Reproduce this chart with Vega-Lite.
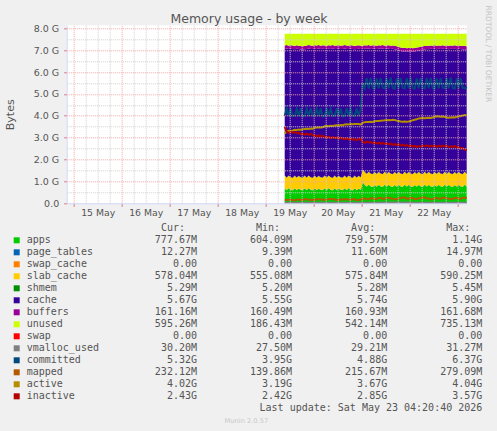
{
  "$schema": "https://vega.github.io/schema/vega-lite/v6.json",
  "autosize": {"type": "none"},
  "width": 400,
  "height": 178,
  "padding": {"left": 66.7, "top": 25.3, "right": 30.3, "bottom": 227.7},
  "background": "#F0F0F0",
  "config": {"view": {"fill": "#FFFFFF", "stroke": null}, "font": "DejaVu Sans"},
  "title": {"text": "Memory usage - by week", "anchor": "middle", "frame": "group", "font": "DejaVu Sans", "fontSize": 12.5, "fontWeight": "normal", "color": "#555555", "dx": -17.7, "offset": -26, "baseline": "middle"},
  "datasets": {
    "ord": [
      {"series": "apps", "ord": 1}, {"series": "page_tables", "ord": 2}, {"series": "swap_cache", "ord": 3},
      {"series": "slab_cache", "ord": 4}, {"series": "shmem", "ord": 5}, {"series": "cache", "ord": 6},
      {"series": "buffers", "ord": 7}, {"series": "unused", "ord": 8}, {"series": "swap", "ord": 9}
    ],
    "stats": [
      {"series": "apps", "cur": "777.67M", "min": "604.09M", "avg": "759.57M", "max": "1.14G"},
      {"series": "page_tables", "cur": "12.27M", "min": "9.39M", "avg": "11.60M", "max": "14.97M"},
      {"series": "swap_cache", "cur": "0.00\u00a0", "min": "0.00\u00a0", "avg": "0.00\u00a0", "max": "0.00\u00a0"},
      {"series": "slab_cache", "cur": "578.04M", "min": "555.08M", "avg": "575.84M", "max": "590.25M"},
      {"series": "shmem", "cur": "5.29M", "min": "5.20M", "avg": "5.28M", "max": "5.45M"},
      {"series": "cache", "cur": "5.67G", "min": "5.55G", "avg": "5.74G", "max": "5.90G"},
      {"series": "buffers", "cur": "161.16M", "min": "160.49M", "avg": "160.93M", "max": "161.68M"},
      {"series": "unused", "cur": "595.26M", "min": "186.43M", "avg": "542.14M", "max": "735.13M"},
      {"series": "swap", "cur": "0.00\u00a0", "min": "0.00\u00a0", "avg": "0.00\u00a0", "max": "0.00\u00a0"},
      {"series": "vmalloc_used", "cur": "30.20M", "min": "27.50M", "avg": "29.21M", "max": "31.27M"},
      {"series": "committed", "cur": "5.32G", "min": "3.95G", "avg": "4.88G", "max": "6.37G"},
      {"series": "mapped", "cur": "232.12M", "min": "139.86M", "avg": "215.67M", "max": "279.09M"},
      {"series": "active", "cur": "4.02G", "min": "3.19G", "avg": "3.67G", "max": "4.04G"},
      {"series": "inactive", "cur": "2.43G", "min": "2.42G", "avg": "2.85G", "max": "3.57G"}
    ],
    "hdr": [
      {"series": "_hdr", "col": "cur", "txt": "Cur:"},
      {"series": "_hdr", "col": "min", "txt": "Min:"},
      {"series": "_hdr", "col": "avg", "txt": "Avg:"},
      {"series": "_hdr", "col": "max", "txt": "Max:"}
    ],
    "upd": [
      {"series": "_upd", "col": "max", "txt": "Last update: Sat May 23 04:20:40 2026"}
    ],
    "ts": [
      {"t":"2026-05-19T09:30","apps":0.68,"page_tables":0.011,"slab_cache":0.57,"shmem":0.005,"cache":5.793,"buffers":0.157,"unused":0.533,"vmalloc_used":0.028,"committed":3.99,"mapped":0.15,"active":3.19,"inactive":3.5},
      {"t":"2026-05-19T10:30","apps":0.60,"page_tables":0.011,"slab_cache":0.56,"shmem":0.005,"cache":5.903,"buffers":0.157,"unused":0.513,"vmalloc_used":0.028,"committed":4.33,"mapped":0.15,"active":3.30,"inactive":3.28},
      {"t":"2026-05-19T11:30","apps":0.69,"page_tables":0.011,"slab_cache":0.57,"shmem":0.005,"cache":5.773,"buffers":0.157,"unused":0.543,"vmalloc_used":0.029,"committed":3.98,"mapped":0.16,"active":3.32,"inactive":3.22},
      {"t":"2026-05-19T12:30","apps":0.61,"page_tables":0.011,"slab_cache":0.56,"shmem":0.005,"cache":5.883,"buffers":0.157,"unused":0.523,"vmalloc_used":0.029,"committed":4.34,"mapped":0.16,"active":3.31,"inactive":3.27},
      {"t":"2026-05-19T13:30","apps":0.59,"page_tables":0.011,"slab_cache":0.56,"shmem":0.005,"cache":5.893,"buffers":0.157,"unused":0.533,"vmalloc_used":0.029,"committed":3.99,"mapped":0.14,"active":3.33,"inactive":3.23},
      {"t":"2026-05-19T14:30","apps":0.68,"page_tables":0.011,"slab_cache":0.57,"shmem":0.005,"cache":5.773,"buffers":0.157,"unused":0.553,"vmalloc_used":0.029,"committed":4.00,"mapped":0.14,"active":3.36,"inactive":3.26},
      {"t":"2026-05-19T15:30","apps":0.60,"page_tables":0.011,"slab_cache":0.56,"shmem":0.005,"cache":5.893,"buffers":0.157,"unused":0.523,"vmalloc_used":0.029,"committed":4.32,"mapped":0.17,"active":3.35,"inactive":3.21},
      {"t":"2026-05-19T16:30","apps":0.67,"page_tables":0.011,"slab_cache":0.57,"shmem":0.005,"cache":5.793,"buffers":0.157,"unused":0.543,"vmalloc_used":0.029,"committed":3.98,"mapped":0.17,"active":3.37,"inactive":3.24},
      {"t":"2026-05-19T17:30","apps":0.61,"page_tables":0.011,"slab_cache":0.56,"shmem":0.005,"cache":5.843,"buffers":0.157,"unused":0.563,"vmalloc_used":0.029,"committed":4.35,"mapped":0.15,"active":3.36,"inactive":3.15},
      {"t":"2026-05-19T18:30","apps":0.60,"page_tables":0.011,"slab_cache":0.56,"shmem":0.005,"cache":5.843,"buffers":0.157,"unused":0.573,"vmalloc_used":0.029,"committed":3.97,"mapped":0.15,"active":3.38,"inactive":3.19},
      {"t":"2026-05-19T19:30","apps":0.68,"page_tables":0.011,"slab_cache":0.57,"shmem":0.005,"cache":5.773,"buffers":0.157,"unused":0.553,"vmalloc_used":0.029,"committed":3.99,"mapped":0.18,"active":3.40,"inactive":3.14},
      {"t":"2026-05-19T20:30","apps":0.60,"page_tables":0.011,"slab_cache":0.56,"shmem":0.005,"cache":5.883,"buffers":0.157,"unused":0.533,"vmalloc_used":0.029,"committed":4.33,"mapped":0.18,"active":3.41,"inactive":3.18},
      {"t":"2026-05-19T21:30","apps":0.69,"page_tables":0.011,"slab_cache":0.57,"shmem":0.005,"cache":5.803,"buffers":0.157,"unused":0.513,"vmalloc_used":0.029,"committed":3.98,"mapped":0.16,"active":3.40,"inactive":3.13},
      {"t":"2026-05-19T22:30","apps":0.61,"page_tables":0.011,"slab_cache":0.56,"shmem":0.005,"cache":5.873,"buffers":0.157,"unused":0.533,"vmalloc_used":0.029,"committed":4.34,"mapped":0.16,"active":3.42,"inactive":3.17},
      {"t":"2026-05-19T23:30","apps":0.59,"page_tables":0.011,"slab_cache":0.56,"shmem":0.005,"cache":5.883,"buffers":0.157,"unused":0.543,"vmalloc_used":0.029,"committed":3.99,"mapped":0.15,"active":3.41,"inactive":3.12},
      {"t":"2026-05-20T00:30","apps":0.68,"page_tables":0.011,"slab_cache":0.57,"shmem":0.005,"cache":5.803,"buffers":0.157,"unused":0.523,"vmalloc_used":0.029,"committed":4.00,"mapped":0.15,"active":3.45,"inactive":3.10},
      {"t":"2026-05-20T01:30","apps":0.60,"page_tables":0.011,"slab_cache":0.56,"shmem":0.005,"cache":5.883,"buffers":0.157,"unused":0.533,"vmalloc_used":0.029,"committed":4.33,"mapped":0.19,"active":3.46,"inactive":3.06},
      {"t":"2026-05-20T02:30","apps":0.67,"page_tables":0.011,"slab_cache":0.57,"shmem":0.005,"cache":5.823,"buffers":0.157,"unused":0.513,"vmalloc_used":0.029,"committed":3.98,"mapped":0.19,"active":3.47,"inactive":3.10},
      {"t":"2026-05-20T03:30","apps":0.61,"page_tables":0.011,"slab_cache":0.56,"shmem":0.005,"cache":5.863,"buffers":0.157,"unused":0.543,"vmalloc_used":0.029,"committed":4.35,"mapped":0.17,"active":3.46,"inactive":3.05},
      {"t":"2026-05-20T04:30","apps":0.60,"page_tables":0.011,"slab_cache":0.56,"shmem":0.005,"cache":5.893,"buffers":0.157,"unused":0.523,"vmalloc_used":0.029,"committed":3.97,"mapped":0.17,"active":3.48,"inactive":3.09},
      {"t":"2026-05-20T05:30","apps":0.68,"page_tables":0.011,"slab_cache":0.57,"shmem":0.005,"cache":5.793,"buffers":0.157,"unused":0.533,"vmalloc_used":0.029,"committed":3.99,"mapped":0.16,"active":3.52,"inactive":3.04},
      {"t":"2026-05-20T06:30","apps":0.60,"page_tables":0.011,"slab_cache":0.56,"shmem":0.005,"cache":5.873,"buffers":0.157,"unused":0.543,"vmalloc_used":0.030,"committed":4.34,"mapped":0.16,"active":3.53,"inactive":3.00},
      {"t":"2026-05-20T07:30","apps":0.69,"page_tables":0.011,"slab_cache":0.57,"shmem":0.005,"cache":5.793,"buffers":0.157,"unused":0.523,"vmalloc_used":0.030,"committed":3.98,"mapped":0.20,"active":3.52,"inactive":3.04},
      {"t":"2026-05-20T08:30","apps":0.61,"page_tables":0.011,"slab_cache":0.56,"shmem":0.005,"cache":5.873,"buffers":0.157,"unused":0.533,"vmalloc_used":0.030,"committed":4.33,"mapped":0.20,"active":3.54,"inactive":2.99},
      {"t":"2026-05-20T09:30","apps":0.59,"page_tables":0.011,"slab_cache":0.56,"shmem":0.005,"cache":5.913,"buffers":0.157,"unused":0.513,"vmalloc_used":0.030,"committed":3.99,"mapped":0.18,"active":3.53,"inactive":3.03},
      {"t":"2026-05-20T10:30","apps":0.68,"page_tables":0.011,"slab_cache":0.57,"shmem":0.005,"cache":5.783,"buffers":0.157,"unused":0.543,"vmalloc_used":0.030,"committed":4.00,"mapped":0.18,"active":3.56,"inactive":2.98},
      {"t":"2026-05-20T11:30","apps":0.60,"page_tables":0.011,"slab_cache":0.56,"shmem":0.005,"cache":5.883,"buffers":0.157,"unused":0.533,"vmalloc_used":0.030,"committed":4.35,"mapped":0.15,"active":3.57,"inactive":3.01},
      {"t":"2026-05-20T12:30","apps":0.67,"page_tables":0.011,"slab_cache":0.57,"shmem":0.005,"cache":5.813,"buffers":0.157,"unused":0.523,"vmalloc_used":0.030,"committed":3.98,"mapped":0.15,"active":3.56,"inactive":2.96},
      {"t":"2026-05-20T13:30","apps":0.61,"page_tables":0.011,"slab_cache":0.56,"shmem":0.005,"cache":5.863,"buffers":0.157,"unused":0.543,"vmalloc_used":0.030,"committed":4.33,"mapped":0.17,"active":3.58,"inactive":3.00},
      {"t":"2026-05-20T14:30","apps":0.60,"page_tables":0.011,"slab_cache":0.56,"shmem":0.005,"cache":5.883,"buffers":0.157,"unused":0.533,"vmalloc_used":0.030,"committed":3.97,"mapped":0.17,"active":3.57,"inactive":2.95},
      {"t":"2026-05-20T15:30","apps":0.68,"page_tables":0.011,"slab_cache":0.57,"shmem":0.005,"cache":5.813,"buffers":0.157,"unused":0.513,"vmalloc_used":0.030,"committed":3.99,"mapped":0.19,"active":3.60,"inactive":2.94},
      {"t":"2026-05-20T16:30","apps":0.60,"page_tables":0.011,"slab_cache":0.56,"shmem":0.005,"cache":5.883,"buffers":0.157,"unused":0.533,"vmalloc_used":0.030,"committed":4.34,"mapped":0.19,"active":3.61,"inactive":2.97},
      {"t":"2026-05-20T17:30","apps":0.69,"page_tables":0.011,"slab_cache":0.57,"shmem":0.005,"cache":5.773,"buffers":0.157,"unused":0.543,"vmalloc_used":0.030,"committed":3.98,"mapped":0.16,"active":3.60,"inactive":2.92},
      {"t":"2026-05-20T18:30","apps":0.61,"page_tables":0.011,"slab_cache":0.56,"shmem":0.005,"cache":5.883,"buffers":0.157,"unused":0.523,"vmalloc_used":0.030,"committed":4.33,"mapped":0.16,"active":3.62,"inactive":2.95},
      {"t":"2026-05-20T19:30","apps":0.59,"page_tables":0.011,"slab_cache":0.56,"shmem":0.005,"cache":5.893,"buffers":0.157,"unused":0.533,"vmalloc_used":0.030,"committed":3.99,"mapped":0.18,"active":3.61,"inactive":2.91},
      {"t":"2026-05-20T20:30","apps":0.68,"page_tables":0.011,"slab_cache":0.57,"shmem":0.005,"cache":5.773,"buffers":0.157,"unused":0.553,"vmalloc_used":0.030,"committed":4.00,"mapped":0.18,"active":3.62,"inactive":2.93},
      {"t":"2026-05-20T21:30","apps":0.60,"page_tables":0.011,"slab_cache":0.56,"shmem":0.005,"cache":5.883,"buffers":0.157,"unused":0.533,"vmalloc_used":0.030,"committed":4.35,"mapped":0.15,"active":3.63,"inactive":2.89},
      {"t":"2026-05-20T22:30","apps":0.67,"page_tables":0.011,"slab_cache":0.57,"shmem":0.005,"cache":5.813,"buffers":0.157,"unused":0.523,"vmalloc_used":0.030,"committed":3.98,"mapped":0.15,"active":3.62,"inactive":2.93},
      {"t":"2026-05-20T23:30","apps":0.61,"page_tables":0.011,"slab_cache":0.56,"shmem":0.005,"cache":5.863,"buffers":0.157,"unused":0.543,"vmalloc_used":0.030,"committed":4.33,"mapped":0.17,"active":3.60,"inactive":2.95},
      {"t":"2026-05-21T00:30","apps":0.95,"page_tables":0.012,"slab_cache":0.575,"shmem":0.005,"cache":5.508,"buffers":0.157,"unused":0.543,"vmalloc_used":0.030,"committed":5.50,"mapped":0.22,"active":3.68,"inactive":2.80},
      {"t":"2026-05-21T01:30","apps":0.84,"page_tables":0.012,"slab_cache":0.58,"shmem":0.005,"cache":5.633,"buffers":0.157,"unused":0.523,"vmalloc_used":0.030,"committed":5.26,"mapped":0.22,"active":3.71,"inactive":2.76},
      {"t":"2026-05-21T02:30","apps":0.76,"page_tables":0.012,"slab_cache":0.57,"shmem":0.005,"cache":5.713,"buffers":0.157,"unused":0.533,"vmalloc_used":0.030,"committed":5.72,"mapped":0.19,"active":3.72,"inactive":2.82},
      {"t":"2026-05-21T03:30","apps":0.85,"page_tables":0.012,"slab_cache":0.58,"shmem":0.005,"cache":5.633,"buffers":0.157,"unused":0.513,"vmalloc_used":0.030,"committed":5.25,"mapped":0.19,"active":3.72,"inactive":2.78},
      {"t":"2026-05-21T04:30","apps":0.77,"page_tables":0.012,"slab_cache":0.57,"shmem":0.005,"cache":5.693,"buffers":0.157,"unused":0.543,"vmalloc_used":0.030,"committed":5.74,"mapped":0.23,"active":3.73,"inactive":2.80},
      {"t":"2026-05-21T05:30","apps":0.75,"page_tables":0.012,"slab_cache":0.57,"shmem":0.005,"cache":5.733,"buffers":0.157,"unused":0.523,"vmalloc_used":0.030,"committed":5.27,"mapped":0.23,"active":3.72,"inactive":2.75},
      {"t":"2026-05-21T06:30","apps":0.83,"page_tables":0.012,"slab_cache":0.58,"shmem":0.005,"cache":5.633,"buffers":0.157,"unused":0.533,"vmalloc_used":0.030,"committed":5.24,"mapped":0.20,"active":3.75,"inactive":2.79},
      {"t":"2026-05-21T07:30","apps":0.76,"page_tables":0.012,"slab_cache":0.57,"shmem":0.005,"cache":5.703,"buffers":0.157,"unused":0.543,"vmalloc_used":0.030,"committed":5.71,"mapped":0.20,"active":3.76,"inactive":2.74},
      {"t":"2026-05-21T08:30","apps":0.84,"page_tables":0.012,"slab_cache":0.58,"shmem":0.005,"cache":5.633,"buffers":0.157,"unused":0.523,"vmalloc_used":0.030,"committed":5.26,"mapped":0.24,"active":3.76,"inactive":2.77},
      {"t":"2026-05-21T09:30","apps":0.77,"page_tables":0.012,"slab_cache":0.57,"shmem":0.005,"cache":5.703,"buffers":0.157,"unused":0.533,"vmalloc_used":0.031,"committed":5.73,"mapped":0.24,"active":3.77,"inactive":2.72},
      {"t":"2026-05-21T10:30","apps":0.75,"page_tables":0.012,"slab_cache":0.57,"shmem":0.005,"cache":5.743,"buffers":0.157,"unused":0.513,"vmalloc_used":0.031,"committed":5.28,"mapped":0.21,"active":3.78,"inactive":2.76},
      {"t":"2026-05-21T11:30","apps":0.85,"page_tables":0.012,"slab_cache":0.58,"shmem":0.005,"cache":5.603,"buffers":0.157,"unused":0.543,"vmalloc_used":0.031,"committed":5.25,"mapped":0.21,"active":3.80,"inactive":2.71},
      {"t":"2026-05-21T12:30","apps":0.76,"page_tables":0.012,"slab_cache":0.57,"shmem":0.005,"cache":5.713,"buffers":0.157,"unused":0.533,"vmalloc_used":0.031,"committed":5.72,"mapped":0.25,"active":3.80,"inactive":2.74},
      {"t":"2026-05-21T13:30","apps":0.84,"page_tables":0.012,"slab_cache":0.58,"shmem":0.005,"cache":5.633,"buffers":0.157,"unused":0.523,"vmalloc_used":0.031,"committed":5.26,"mapped":0.25,"active":3.81,"inactive":2.70},
      {"t":"2026-05-21T14:30","apps":0.77,"page_tables":0.012,"slab_cache":0.57,"shmem":0.005,"cache":5.693,"buffers":0.157,"unused":0.543,"vmalloc_used":0.031,"committed":5.75,"mapped":0.22,"active":3.80,"inactive":2.73},
      {"t":"2026-05-21T15:30","apps":0.75,"page_tables":0.012,"slab_cache":0.57,"shmem":0.005,"cache":5.723,"buffers":0.157,"unused":0.533,"vmalloc_used":0.031,"committed":5.27,"mapped":0.22,"active":3.82,"inactive":2.67},
      {"t":"2026-05-21T16:30","apps":0.83,"page_tables":0.012,"slab_cache":0.58,"shmem":0.005,"cache":5.613,"buffers":0.157,"unused":0.553,"vmalloc_used":0.031,"committed":5.24,"mapped":0.19,"active":3.81,"inactive":2.71},
      {"t":"2026-05-21T17:30","apps":0.76,"page_tables":0.012,"slab_cache":0.57,"shmem":0.005,"cache":5.673,"buffers":0.157,"unused":0.573,"vmalloc_used":0.031,"committed":5.71,"mapped":0.19,"active":3.78,"inactive":2.66},
      {"t":"2026-05-21T18:30","apps":0.84,"page_tables":0.012,"slab_cache":0.58,"shmem":0.005,"cache":5.553,"buffers":0.157,"unused":0.603,"vmalloc_used":0.031,"committed":5.26,"mapped":0.23,"active":3.76,"inactive":2.70},
      {"t":"2026-05-21T19:30","apps":0.77,"page_tables":0.012,"slab_cache":0.57,"shmem":0.005,"cache":5.603,"buffers":0.157,"unused":0.633,"vmalloc_used":0.031,"committed":5.73,"mapped":0.23,"active":3.74,"inactive":2.64},
      {"t":"2026-05-21T20:30","apps":0.75,"page_tables":0.012,"slab_cache":0.57,"shmem":0.005,"cache":5.603,"buffers":0.157,"unused":0.653,"vmalloc_used":0.031,"committed":5.28,"mapped":0.26,"active":3.73,"inactive":2.68},
      {"t":"2026-05-21T21:30","apps":0.85,"page_tables":0.012,"slab_cache":0.58,"shmem":0.005,"cache":5.503,"buffers":0.157,"unused":0.643,"vmalloc_used":0.031,"committed":5.25,"mapped":0.26,"active":3.74,"inactive":2.63},
      {"t":"2026-05-21T22:30","apps":0.76,"page_tables":0.012,"slab_cache":0.57,"shmem":0.005,"cache":5.583,"buffers":0.157,"unused":0.663,"vmalloc_used":0.031,"committed":5.72,"mapped":0.21,"active":3.73,"inactive":2.66},
      {"t":"2026-05-21T23:30","apps":0.84,"page_tables":0.012,"slab_cache":0.58,"shmem":0.005,"cache":5.503,"buffers":0.157,"unused":0.653,"vmalloc_used":0.031,"committed":5.26,"mapped":0.21,"active":3.74,"inactive":2.60},
      {"t":"2026-05-22T00:30","apps":0.77,"page_tables":0.012,"slab_cache":0.57,"shmem":0.005,"cache":5.593,"buffers":0.157,"unused":0.643,"vmalloc_used":0.030,"committed":5.75,"mapped":0.24,"active":3.76,"inactive":2.64},
      {"t":"2026-05-22T01:30","apps":0.75,"page_tables":0.012,"slab_cache":0.57,"shmem":0.005,"cache":5.593,"buffers":0.157,"unused":0.663,"vmalloc_used":0.030,"committed":5.27,"mapped":0.24,"active":3.80,"inactive":2.59},
      {"t":"2026-05-22T02:30","apps":0.83,"page_tables":0.012,"slab_cache":0.58,"shmem":0.005,"cache":5.513,"buffers":0.157,"unused":0.653,"vmalloc_used":0.030,"committed":5.24,"mapped":0.20,"active":3.82,"inactive":2.63},
      {"t":"2026-05-22T03:30","apps":0.76,"page_tables":0.012,"slab_cache":0.57,"shmem":0.005,"cache":5.613,"buffers":0.157,"unused":0.633,"vmalloc_used":0.030,"committed":5.71,"mapped":0.20,"active":3.84,"inactive":2.58},
      {"t":"2026-05-22T04:30","apps":0.84,"page_tables":0.012,"slab_cache":0.58,"shmem":0.005,"cache":5.543,"buffers":0.157,"unused":0.613,"vmalloc_used":0.030,"committed":5.26,"mapped":0.23,"active":3.88,"inactive":2.62},
      {"t":"2026-05-22T05:30","apps":0.77,"page_tables":0.012,"slab_cache":0.57,"shmem":0.005,"cache":5.643,"buffers":0.157,"unused":0.593,"vmalloc_used":0.030,"committed":5.73,"mapped":0.23,"active":3.89,"inactive":2.59},
      {"t":"2026-05-22T06:30","apps":0.75,"page_tables":0.012,"slab_cache":0.57,"shmem":0.005,"cache":5.683,"buffers":0.157,"unused":0.573,"vmalloc_used":0.030,"committed":5.28,"mapped":0.27,"active":3.90,"inactive":2.63},
      {"t":"2026-05-22T07:30","apps":0.85,"page_tables":0.012,"slab_cache":0.58,"shmem":0.005,"cache":5.583,"buffers":0.157,"unused":0.563,"vmalloc_used":0.030,"committed":5.25,"mapped":0.27,"active":3.89,"inactive":2.61},
      {"t":"2026-05-22T08:30","apps":0.76,"page_tables":0.012,"slab_cache":0.57,"shmem":0.005,"cache":5.703,"buffers":0.157,"unused":0.543,"vmalloc_used":0.030,"committed":5.72,"mapped":0.22,"active":3.90,"inactive":2.65},
      {"t":"2026-05-22T09:30","apps":0.84,"page_tables":0.012,"slab_cache":0.58,"shmem":0.005,"cache":5.603,"buffers":0.157,"unused":0.553,"vmalloc_used":0.030,"committed":5.26,"mapped":0.22,"active":3.91,"inactive":2.59},
      {"t":"2026-05-22T10:30","apps":0.77,"page_tables":0.012,"slab_cache":0.57,"shmem":0.005,"cache":5.703,"buffers":0.157,"unused":0.533,"vmalloc_used":0.030,"committed":5.74,"mapped":0.19,"active":3.90,"inactive":2.63},
      {"t":"2026-05-22T11:30","apps":0.75,"page_tables":0.012,"slab_cache":0.57,"shmem":0.005,"cache":5.713,"buffers":0.157,"unused":0.543,"vmalloc_used":0.030,"committed":5.27,"mapped":0.19,"active":3.92,"inactive":2.60},
      {"t":"2026-05-22T12:30","apps":0.83,"page_tables":0.012,"slab_cache":0.58,"shmem":0.005,"cache":5.643,"buffers":0.157,"unused":0.523,"vmalloc_used":0.030,"committed":5.24,"mapped":0.24,"active":3.96,"inactive":2.64},
      {"t":"2026-05-22T13:30","apps":0.76,"page_tables":0.012,"slab_cache":0.57,"shmem":0.005,"cache":5.693,"buffers":0.157,"unused":0.553,"vmalloc_used":0.030,"committed":5.71,"mapped":0.24,"active":3.98,"inactive":2.58},
      {"t":"2026-05-22T14:30","apps":0.84,"page_tables":0.012,"slab_cache":0.58,"shmem":0.005,"cache":5.623,"buffers":0.157,"unused":0.533,"vmalloc_used":0.030,"committed":5.26,"mapped":0.21,"active":3.97,"inactive":2.63},
      {"t":"2026-05-22T15:30","apps":0.77,"page_tables":0.012,"slab_cache":0.57,"shmem":0.005,"cache":5.693,"buffers":0.157,"unused":0.543,"vmalloc_used":0.030,"committed":5.73,"mapped":0.21,"active":3.96,"inactive":2.59},
      {"t":"2026-05-22T16:30","apps":0.75,"page_tables":0.012,"slab_cache":0.57,"shmem":0.005,"cache":5.733,"buffers":0.157,"unused":0.523,"vmalloc_used":0.030,"committed":5.28,"mapped":0.25,"active":3.97,"inactive":2.64},
      {"t":"2026-05-22T17:30","apps":0.85,"page_tables":0.012,"slab_cache":0.58,"shmem":0.005,"cache":5.603,"buffers":0.157,"unused":0.543,"vmalloc_used":0.030,"committed":5.25,"mapped":0.25,"active":3.95,"inactive":2.60},
      {"t":"2026-05-22T18:30","apps":0.76,"page_tables":0.012,"slab_cache":0.57,"shmem":0.005,"cache":5.713,"buffers":0.157,"unused":0.533,"vmalloc_used":0.030,"committed":5.72,"mapped":0.22,"active":3.92,"inactive":2.63},
      {"t":"2026-05-22T19:30","apps":0.84,"page_tables":0.012,"slab_cache":0.58,"shmem":0.005,"cache":5.603,"buffers":0.157,"unused":0.553,"vmalloc_used":0.030,"committed":5.26,"mapped":0.22,"active":3.91,"inactive":2.57},
      {"t":"2026-05-22T20:30","apps":0.77,"page_tables":0.012,"slab_cache":0.57,"shmem":0.005,"cache":5.703,"buffers":0.157,"unused":0.533,"vmalloc_used":0.030,"committed":5.75,"mapped":0.20,"active":3.92,"inactive":2.61},
      {"t":"2026-05-22T21:30","apps":0.75,"page_tables":0.012,"slab_cache":0.57,"shmem":0.005,"cache":5.713,"buffers":0.157,"unused":0.543,"vmalloc_used":0.030,"committed":5.27,"mapped":0.20,"active":3.93,"inactive":2.58},
      {"t":"2026-05-22T22:30","apps":0.83,"page_tables":0.012,"slab_cache":0.58,"shmem":0.005,"cache":5.643,"buffers":0.157,"unused":0.523,"vmalloc_used":0.030,"committed":5.24,"mapped":0.24,"active":3.92,"inactive":2.62},
      {"t":"2026-05-22T23:30","apps":0.76,"page_tables":0.012,"slab_cache":0.57,"shmem":0.005,"cache":5.693,"buffers":0.157,"unused":0.553,"vmalloc_used":0.030,"committed":5.71,"mapped":0.24,"active":3.95,"inactive":2.56},
      {"t":"2026-05-23T00:30","apps":0.84,"page_tables":0.012,"slab_cache":0.58,"shmem":0.005,"cache":5.623,"buffers":0.157,"unused":0.533,"vmalloc_used":0.030,"committed":5.26,"mapped":0.21,"active":3.97,"inactive":2.57},
      {"t":"2026-05-23T01:30","apps":0.77,"page_tables":0.012,"slab_cache":0.57,"shmem":0.005,"cache":5.693,"buffers":0.157,"unused":0.543,"vmalloc_used":0.030,"committed":5.73,"mapped":0.21,"active":3.99,"inactive":2.50},
      {"t":"2026-05-23T02:30","apps":0.75,"page_tables":0.012,"slab_cache":0.57,"shmem":0.005,"cache":5.693,"buffers":0.157,"unused":0.563,"vmalloc_used":0.030,"committed":5.28,"mapped":0.25,"active":4.01,"inactive":2.53},
      {"t":"2026-05-23T03:30","apps":0.85,"page_tables":0.012,"slab_cache":0.58,"shmem":0.005,"cache":5.593,"buffers":0.157,"unused":0.553,"vmalloc_used":0.030,"committed":5.25,"mapped":0.25,"active":4.04,"inactive":2.46},
      {"t":"2026-05-23T04:30","apps":0.759,"page_tables":0.012,"slab_cache":0.564,"shmem":0.005,"cache":5.673,"buffers":0.157,"unused":0.58,"vmalloc_used":0.030,"committed":5.32,"mapped":0.23,"active":4.02,"inactive":2.43}
    ]
  },
  "layer": [
    {
      "layer": [
        {
          "data": {"name": "ts"},
          "transform": [
            {"fold": ["apps", "page_tables", "slab_cache", "shmem", "cache", "buffers", "unused"], "as": ["series", "value"]},
            {"lookup": "series", "from": {"data": {"name": "ord"}, "key": "series", "fields": ["ord"]}}
          ],
          "mark": {"type": "area", "opacity": 1, "interpolate": "linear"},
          "encoding": {
            "x": {
              "field": "t", "type": "temporal",
              "scale": {"domain": [{"year": 2026, "month": 5, "date": 14, "hours": 20, "minutes": 30}, {"year": 2026, "month": 5, "date": 23, "hours": 4, "minutes": 30}]},
              "axis": {
                "title": "Munin 2.0.57", "titleX": 179.2, "titleY": 216.7, "titleFontSize": 6.7, "titleColor": "#C8C8C8", "titleFontWeight": "normal", "titleAlign": "center", "titleBaseline": "middle",
                "values": [
                  {"year": 2026, "month": 5, "date": 15, "hours": 0}, {"year": 2026, "month": 5, "date": 15, "hours": 6}, {"year": 2026, "month": 5, "date": 15, "hours": 12}, {"year": 2026, "month": 5, "date": 15, "hours": 18},
                  {"year": 2026, "month": 5, "date": 16, "hours": 0}, {"year": 2026, "month": 5, "date": 16, "hours": 6}, {"year": 2026, "month": 5, "date": 16, "hours": 12}, {"year": 2026, "month": 5, "date": 16, "hours": 18},
                  {"year": 2026, "month": 5, "date": 17, "hours": 0}, {"year": 2026, "month": 5, "date": 17, "hours": 6}, {"year": 2026, "month": 5, "date": 17, "hours": 12}, {"year": 2026, "month": 5, "date": 17, "hours": 18},
                  {"year": 2026, "month": 5, "date": 18, "hours": 0}, {"year": 2026, "month": 5, "date": 18, "hours": 6}, {"year": 2026, "month": 5, "date": 18, "hours": 12}, {"year": 2026, "month": 5, "date": 18, "hours": 18},
                  {"year": 2026, "month": 5, "date": 19, "hours": 0}, {"year": 2026, "month": 5, "date": 19, "hours": 6}, {"year": 2026, "month": 5, "date": 19, "hours": 12}, {"year": 2026, "month": 5, "date": 19, "hours": 18},
                  {"year": 2026, "month": 5, "date": 20, "hours": 0}, {"year": 2026, "month": 5, "date": 20, "hours": 6}, {"year": 2026, "month": 5, "date": 20, "hours": 12}, {"year": 2026, "month": 5, "date": 20, "hours": 18},
                  {"year": 2026, "month": 5, "date": 21, "hours": 0}, {"year": 2026, "month": 5, "date": 21, "hours": 6}, {"year": 2026, "month": 5, "date": 21, "hours": 12}, {"year": 2026, "month": 5, "date": 21, "hours": 18},
                  {"year": 2026, "month": 5, "date": 22, "hours": 0}, {"year": 2026, "month": 5, "date": 22, "hours": 6}, {"year": 2026, "month": 5, "date": 22, "hours": 12}, {"year": 2026, "month": 5, "date": 22, "hours": 18},
                  {"year": 2026, "month": 5, "date": 23, "hours": 0}
                ],
                "labelExpr": "hours(datum.value) == 12 ? timeFormat(datum.value, '%d %b') : ''",
                "labelOverlap": false, "labelFlush": false,
                "labelFont": "DejaVu Sans", "labelFontSize": 9.3, "labelColor": "#555555", "labelPadding": 2, "labelBaseline": "top",
                "grid": true,
                "gridColor": {"condition": {"test": "hours(datum.value) == 0", "value": "#F0A8A8"}, "value": "#D0D0D0"},
                "gridDash": [1, 1],
                "tickSize": 3,
                "tickColor": {"condition": {"test": "hours(datum.value) == 0", "value": "#E07070"}, "value": "transparent"},
                "domainColor": "#CFD6F8",
                "zindex": 1
              }
            },
            "y": {
              "field": "value", "type": "quantitative", "stack": "zero",
              "scale": {"domain": [0, 8.137], "nice": false},
              "axis": {
                "title": "Bytes", "titleX": -56, "titleY": 89, "titleAngle": 270, "titleAlign": "center", "titleBaseline": "middle", "titleFont": "DejaVu Sans", "titleFontSize": 11, "titleFontWeight": "normal", "titleColor": "#555555",
                "values": [0, 0.5, 1, 1.5, 2, 2.5, 3, 3.5, 4, 4.5, 5, 5.5, 6, 6.5, 7, 7.5, 8],
                "labelExpr": "datum.value == 0 ? '0.0' : (datum.value % 1 == 0 ? format(datum.value, '.1f') + ' G' : '')",
                "labelFont": "DejaVu Sans", "labelFontSize": 9.5, "labelColor": "#555555", "labelPadding": 5, "labelOverlap": false,
                "grid": true,
                "gridColor": {"condition": {"test": "datum.value % 1 == 0", "value": "#F0A8A8"}, "value": "#D0D0D0"},
                "gridOpacity": {"condition": {"test": "datum.value == 0", "value": 0}, "value": 1},
                "gridDash": [1, 1],
                "tickSize": 3,
                "tickColor": {"condition": {"test": "datum.value % 1 == 0", "value": "#E07070"}, "value": "transparent"},
                "domainColor": "#CFD6F8",
                "zindex": 1
              }
            },
            "color": {
              "field": "series", "type": "nominal",
              "scale": {
                "domain": ["apps", "page_tables", "swap_cache", "slab_cache", "shmem", "cache", "buffers", "unused", "swap", "vmalloc_used", "committed", "mapped", "active", "inactive"],
                "range": ["#00CC00", "#0066B3", "#FF8000", "#FFCC00", "#008F00", "#330099", "#990099", "#CCFF00", "#FF0000", "#808080", "#00487D", "#B35A00", "#B38F00", "#B30000"]
              },
              "legend": {
                "orient": "none", "legendX": -55, "legendY": 210, "direction": "vertical", "title": null,
                "symbolType": "square", "symbolSize": 36, "symbolStrokeWidth": 0, "symbolOpacity": 1,
                "labelFont": "DejaVu Sans Mono", "labelFontSize": 10, "labelColor": "#555555", "labelOffset": 5, "labelLimit": 0,
                "rowPadding": 2, "padding": 0, "offset": 0
              }
            },
            "order": {"field": "ord", "type": "quantitative"}
          }
        },
        {
          "data": {"name": "ts"},
          "transform": [
            {"fold": ["vmalloc_used", "committed", "mapped", "active", "inactive"], "as": ["series", "value"]}
          ],
          "mark": {"type": "line", "strokeWidth": 2, "interpolate": "linear"},
          "encoding": {
            "x": {"field": "t", "type": "temporal", "axis": null},
            "y": {
              "field": "value", "type": "quantitative",
              "axis": {
                "orient": "right", "title": "RRDTOOL / TOBI OETIKER", "labels": false, "ticks": false, "domain": false, "grid": false,
                "titleAngle": 90, "titleAlign": "left", "titleBaseline": "middle", "titleX": 20.3, "titleY": -20.3,
                "titleFont": "DejaVu Sans", "titleFontSize": 7.5, "titleFontWeight": "normal", "titleColor": "#C4C4C4"
              }
            },
            "stroke": {
              "field": "series", "type": "nominal",
              "scale": {"domain": ["vmalloc_used", "committed", "mapped", "active", "inactive"], "range": ["#808080", "#00487D", "#B35A00", "#B38F00", "#B30000"]},
              "legend": null
            }
          }
        }
      ],
      "resolve": {"axis": {"x": "independent", "y": "independent"}}
    },
    {
      "layer": [
        {
          "data": {"name": "stats"},
          "transform": [{"fold": ["cur", "min", "avg", "max"], "as": ["col", "txt"]}],
          "mark": {"type": "text", "align": "right", "baseline": "middle", "font": "DejaVu Sans Mono", "fontSize": 10, "color": "#555555"},
          "encoding": {
            "x": {"field": "col", "type": "nominal", "scale": {"type": "point", "domain": ["cur", "min", "avg", "max"], "range": [130.3, 415.6], "padding": 0}, "axis": null},
            "y": {"field": "series", "type": "nominal", "scale": {"type": "point", "domain": ["_hdr", "apps", "page_tables", "swap_cache", "slab_cache", "shmem", "cache", "buffers", "unused", "swap", "vmalloc_used", "committed", "mapped", "active", "inactive", "_upd"], "range": [203, 383], "padding": 0}, "axis": null},
            "text": {"field": "txt", "type": "nominal"}
          }
        },
        {
          "data": {"name": "hdr"},
          "mark": {"type": "text", "align": "right", "baseline": "middle", "font": "DejaVu Sans Mono", "fontSize": 10, "color": "#555555", "dx": -12},
          "encoding": {
            "x": {"field": "col", "type": "nominal", "axis": null},
            "y": {"field": "series", "type": "nominal", "axis": null},
            "text": {"field": "txt", "type": "nominal"}
          }
        },
        {
          "data": {"name": "upd"},
          "mark": {"type": "text", "align": "right", "baseline": "middle", "font": "DejaVu Sans Mono", "fontSize": 10, "color": "#555555"},
          "encoding": {
            "x": {"field": "col", "type": "nominal", "axis": null},
            "y": {"field": "series", "type": "nominal", "axis": null},
            "text": {"field": "txt", "type": "nominal"}
          }
        }
      ]
    }
  ],
  "resolve": {"scale": {"x": "independent", "y": "independent"}}
}
